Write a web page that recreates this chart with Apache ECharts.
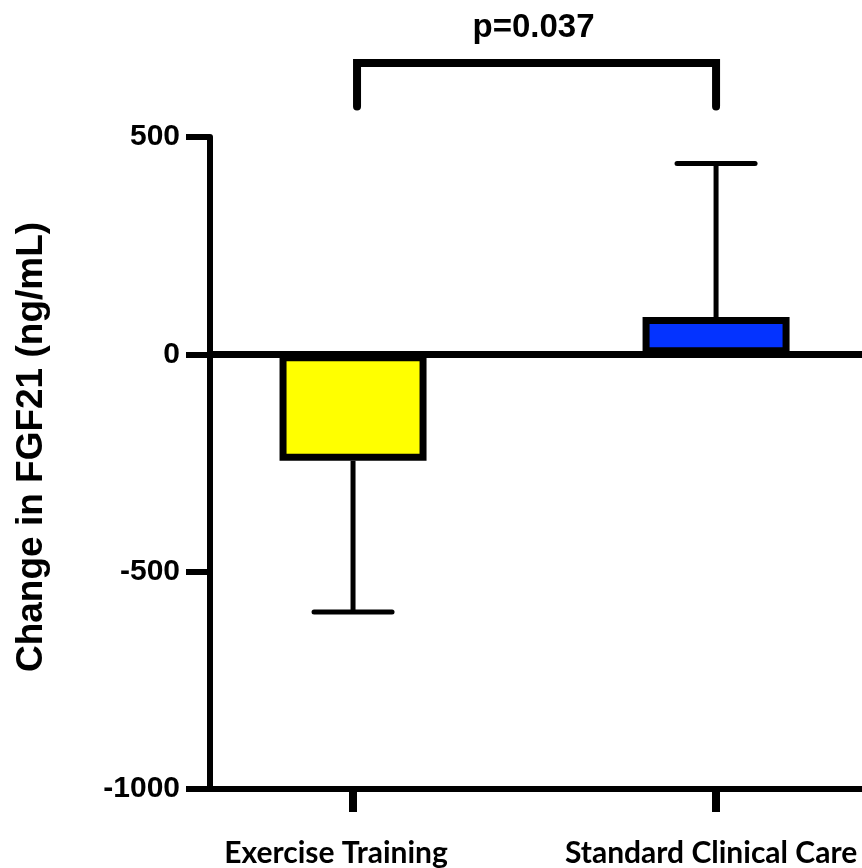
<!DOCTYPE html>
<html>
<head>
<meta charset="utf-8">
<script src="https://cdn.jsdelivr.net/npm/echarts@6/dist/echarts.min.js"></script>
<style>
  html, body { margin: 0; padding: 0; background: #fff; }
  #chart { width: 862px; height: 868px; }
</style>
</head>
<body>
<div id="chart"></div>
<script>
// values
const groups = ['Exercise Training', 'Standard Clinical Care'];
const meanChange = [-245, 86];
const errorEnd = [-593, 439];
const barColors = ['#ffff00', '#0433ff'];
const yTicks = [-1000, -500, 0, 500];
const pValueLabel = 'p=0.037';
const bracketLeg = 570;
const bracketTop = 670;

const chart = echarts.init(document.getElementById('chart'));

const barData = meanChange.map((v, i) => ({
    value: [i, v],
    itemStyle: { color: barColors[i] }
}));
const errData = meanChange.map((v, i) => [i, v, errorEnd[i]]);

const labelFont = { color: '#000', fontFamily: 'Lato', fontWeight: 'bold', fontSize: 30 };

chart.setOption({
    animation: false,
    grid: { left: 210, right: 0, top: 137, bottom: 78 },
    xAxis: {
        type: 'value',
        min: -0.394,
        max: 1.402,
        splitLine: { show: false },
        axisLine: { onZero: false, lineStyle: { color: '#000', width: 6 } },
        axisTick: { customValues: [0, 1], length: 23, lineStyle: { color: '#000', width: 8 } },
        axisLabel: {
            customValues: [0, 1],
            // the first label sits a bit left of its tick in the original
            formatter: v => Math.round(v) === 0 ? '{a|' + groups[0] + '}' : '{b|' + groups[1] + '}',
            margin: 49,
            rich: {
                a: Object.assign({ padding: [0, 34, 0, 0] }, labelFont),
                b: Object.assign({ padding: [0, 10, 0, 0] }, labelFont)
            }
        }
    },
    yAxis: {
        type: 'value',
        min: yTicks[0],
        max: yTicks[yTicks.length - 1],
        interval: 500,
        name: 'Change in FGF21 (ng/mL)',
        nameLocation: 'middle',
        nameGap: 160,
        nameTextStyle: {
            color: '#000',
            fontFamily: 'Liberation Sans',
            fontWeight: 'bold',
            fontSize: 37,
            padding: [0, 0, 0, 32]
        },
        splitLine: { show: false },
        axisLine: { onZero: false, lineStyle: { color: '#000', width: 6 } },
        axisTick: { length: 24, lineStyle: { color: '#000', width: 6 } },
        axisLabel: {
            margin: 30,
            formatter: v => String(v),
            color: '#000',
            fontFamily: 'Liberation Sans',
            fontWeight: 'bold',
            fontSize: 30
        }
    },
    series: [
        {
            type: 'bar',
            data: barData,
            barWidth: 147,
            itemStyle: { borderColor: '#000', borderWidth: 7 },
            markLine: {
                silent: true,
                symbol: 'none',
                label: { show: false },
                lineStyle: { color: '#000', width: 7, type: 'solid' },
                data: [{ yAxis: 0 }]
            }
        },
        {
            // error bars
            type: 'custom',
            data: errData,
            encode: { x: 0, y: [1, 2] },
            renderItem: (params, api) => {
                const x = api.value(0);
                const a = api.coord([x, api.value(1)]);
                const b = api.coord([x, api.value(2)]);
                const half = 39;
                return {
                    type: 'group',
                    children: [
                        { type: 'line', shape: { x1: a[0], y1: a[1], x2: b[0], y2: b[1] },
                          style: { stroke: '#000', lineWidth: 5 } },
                        { type: 'line', shape: { x1: b[0] - half, y1: b[1], x2: b[0] + half, y2: b[1] },
                          style: { stroke: '#000', lineWidth: 5, lineCap: 'round' } }
                    ]
                };
            }
        },
        {
            // significance bracket
            type: 'custom',
            clip: false,
            data: [[0, 1, bracketLeg, bracketTop]],
            encode: { x: [0, 1], y: [2, 3] },
            renderItem: (params, api) => {
                const l = api.coord([api.value(0), api.value(2)]);
                const lt = api.coord([api.value(0), api.value(3)]);
                const r = api.coord([api.value(1), api.value(2)]);
                const rt = api.coord([api.value(1), api.value(3)]);
                return {
                    type: 'group',
                    children: [
                        { type: 'polyline',
                          shape: { points: [[l[0] + 4, l[1]], [lt[0] + 4, lt[1]], [rt[0], rt[1]], [r[0], r[1]]] },
                          style: { stroke: '#000', lineWidth: 8, fill: null, lineCap: 'round' } },
                        { type: 'text', x: (lt[0] + rt[0]) / 2 - 1, y: lt[1] - 35,
                          style: { text: pValueLabel, fill: '#000', fontFamily: 'Liberation Sans',
                                   fontWeight: 'bold', fontSize: 33, align: 'center', verticalAlign: 'middle' } }
                    ]
                };
            }
        }
    ]
});
</script>
</body>
</html>
